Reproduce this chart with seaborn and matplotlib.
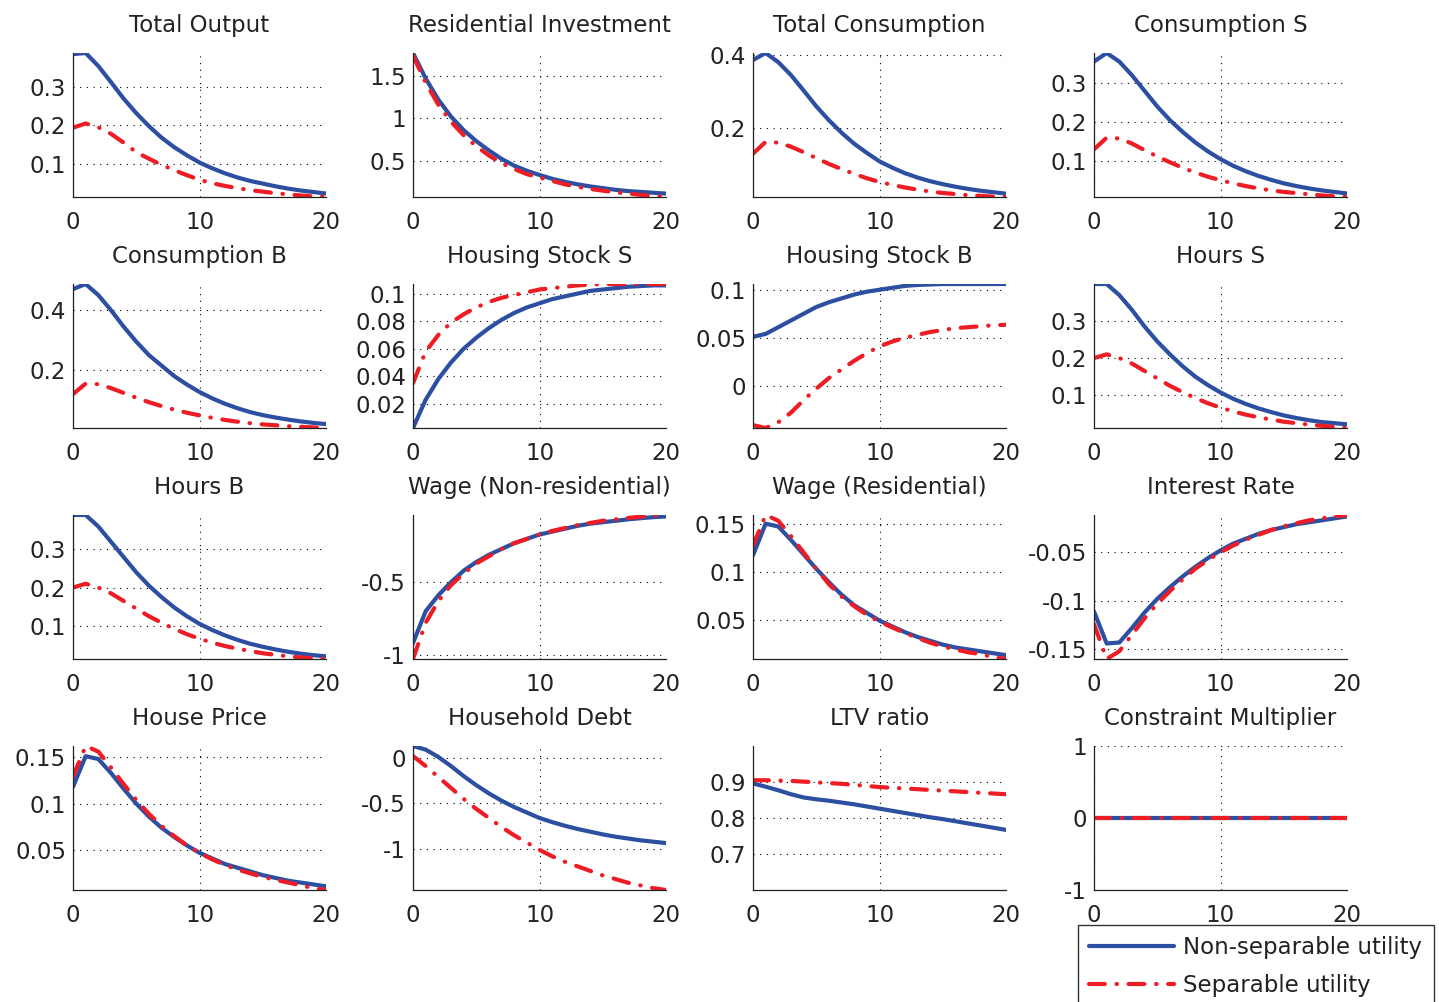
import numpy as np
import pandas as pd
import matplotlib
matplotlib.use("Agg")
import matplotlib.pyplot as plt
import seaborn as sns

# horizon (quarters)
periods = list(range(21))

# impulse responses: non-separable (blue) vs separable (red)
total_output_ns = [0.386, 0.389, 0.355, 0.313, 0.27, 0.232, 0.198, 0.168, 0.143, 0.122, 0.103,
                   0.088, 0.075, 0.064, 0.055, 0.048, 0.041, 0.035, 0.03, 0.026, 0.022]
total_output_s = [0.194, 0.205, 0.195, 0.178, 0.155, 0.13, 0.113, 0.097, 0.083, 0.07, 0.058,
                  0.049, 0.042, 0.036, 0.031, 0.027, 0.023, 0.02, 0.017, 0.015, 0.013]

res_inv_ns = [1.77, 1.47, 1.22, 1.02, 0.86, 0.73, 0.62, 0.52, 0.44, 0.38, 0.33,
              0.285, 0.25, 0.22, 0.195, 0.175, 0.155, 0.14, 0.13, 0.12, 0.11]
res_inv_s = [1.74, 1.42, 1.16, 0.96, 0.8, 0.67, 0.56, 0.47, 0.4, 0.34, 0.3,
             0.26, 0.22, 0.19, 0.165, 0.145, 0.125, 0.11, 0.095, 0.082, 0.07]

total_cons_ns = [0.386, 0.405, 0.38, 0.345, 0.303, 0.26, 0.222, 0.188, 0.158, 0.133, 0.11,
                 0.093, 0.078, 0.066, 0.056, 0.048, 0.041, 0.035, 0.03, 0.026, 0.022]
total_cons_s = [0.131, 0.163, 0.161, 0.15, 0.135, 0.119, 0.103, 0.089, 0.076, 0.064, 0.054,
                0.046, 0.039, 0.033, 0.028, 0.024, 0.021, 0.018, 0.016, 0.014, 0.013]

cons_s_ns = [0.355, 0.377, 0.355, 0.32, 0.28, 0.24, 0.205, 0.175, 0.148, 0.125, 0.105,
             0.088, 0.074, 0.062, 0.052, 0.043, 0.036, 0.03, 0.025, 0.021, 0.017]
cons_s_s = [0.13, 0.16, 0.158, 0.145, 0.128, 0.112, 0.097, 0.083, 0.071, 0.06, 0.051,
            0.043, 0.036, 0.03, 0.025, 0.021, 0.018, 0.015, 0.012, 0.01, 0.008]

cons_b_ns = [0.47, 0.487, 0.45, 0.4, 0.345, 0.295, 0.25, 0.215, 0.18, 0.152, 0.127,
             0.106, 0.088, 0.073, 0.06, 0.05, 0.042, 0.035, 0.029, 0.024, 0.02]
cons_b_s = [0.12, 0.155, 0.153, 0.14, 0.124, 0.108, 0.093, 0.08, 0.068, 0.058, 0.049,
            0.041, 0.034, 0.028, 0.023, 0.019, 0.016, 0.013, 0.011, 0.009, 0.007]

house_s_ns = [0.0025, 0.023, 0.038, 0.05, 0.06, 0.068, 0.075, 0.081, 0.086, 0.09, 0.093,
              0.096, 0.098, 0.1, 0.102, 0.103, 0.104, 0.105, 0.1055, 0.106, 0.106]
house_s_s = [0.035, 0.058, 0.07, 0.079, 0.085, 0.09, 0.094, 0.097, 0.099, 0.101, 0.103,
             0.104, 0.105, 0.106, 0.1065, 0.107, 0.107, 0.107, 0.107, 0.107, 0.107]

house_b_ns = [0.051, 0.054, 0.061, 0.068, 0.075, 0.082, 0.087, 0.091, 0.095, 0.098, 0.1,
              0.102, 0.104, 0.105, 0.1055, 0.106, 0.106, 0.106, 0.106, 0.106, 0.106]
house_b_s = [-0.041, -0.044, -0.038, -0.028, -0.015, -0.003, 0.008, 0.017, 0.026, 0.034, 0.041,
             0.046, 0.05, 0.053, 0.056, 0.058, 0.06, 0.061, 0.062, 0.063, 0.0635]

hours_s_ns = [0.4, 0.4, 0.37, 0.33, 0.285, 0.245, 0.21, 0.178, 0.15, 0.127, 0.107,
              0.09, 0.076, 0.064, 0.054, 0.045, 0.038, 0.032, 0.027, 0.024, 0.021]
hours_s_s = [0.2, 0.21, 0.2, 0.185, 0.165, 0.145, 0.125, 0.108, 0.092, 0.078, 0.066,
             0.056, 0.047, 0.04, 0.034, 0.028, 0.024, 0.02, 0.017, 0.014, 0.011]

hours_b_ns = [0.39, 0.39, 0.36, 0.32, 0.28, 0.24, 0.205, 0.175, 0.148, 0.125, 0.105,
              0.089, 0.075, 0.063, 0.053, 0.045, 0.038, 0.032, 0.027, 0.023, 0.02]
hours_b_s = [0.2, 0.21, 0.2, 0.185, 0.165, 0.145, 0.125, 0.108, 0.092, 0.078, 0.066,
             0.056, 0.047, 0.04, 0.034, 0.028, 0.024, 0.02, 0.017, 0.015, 0.013]

wage_nr_ns = [-0.92, -0.7, -0.59, -0.5, -0.42, -0.36, -0.31, -0.27, -0.23, -0.2, -0.17,
              -0.15, -0.13, -0.11, -0.095, -0.085, -0.075, -0.065, -0.057, -0.05, -0.045]
wage_nr_s = [-1.03, -0.78, -0.63, -0.52, -0.44, -0.37, -0.32, -0.27, -0.23, -0.2, -0.17,
             -0.145, -0.125, -0.105, -0.09, -0.075, -0.065, -0.055, -0.047, -0.04, -0.035]

wage_r_ns = [0.117, 0.15, 0.147, 0.133, 0.118, 0.103, 0.089, 0.076, 0.065, 0.057, 0.049,
             0.043, 0.037, 0.032, 0.028, 0.024, 0.021, 0.019, 0.017, 0.015, 0.013]
wage_r_s = [0.127, 0.159, 0.153, 0.137, 0.12, 0.103, 0.087, 0.074, 0.064, 0.055, 0.048,
            0.042, 0.036, 0.031, 0.026, 0.022, 0.019, 0.016, 0.014, 0.011, 0.009]

rate_ns = [-0.111, -0.144, -0.143, -0.128, -0.112, -0.098, -0.086, -0.075, -0.065, -0.056, -0.048,
           -0.041, -0.036, -0.031, -0.027, -0.024, -0.021, -0.019, -0.017, -0.015, -0.013]
rate_s = [-0.124, -0.16, -0.152, -0.135, -0.118, -0.103, -0.09, -0.078, -0.067, -0.058, -0.05,
          -0.043, -0.037, -0.032, -0.027, -0.023, -0.02, -0.017, -0.015, -0.013, -0.0115]

price_ns = [0.118, 0.151, 0.148, 0.133, 0.116, 0.1, 0.086, 0.074, 0.064, 0.055, 0.047,
            0.041, 0.035, 0.031, 0.027, 0.023, 0.02, 0.017, 0.015, 0.013, 0.011]
price_s = [0.129, 0.162, 0.156, 0.139, 0.121, 0.104, 0.089, 0.076, 0.065, 0.055, 0.047,
           0.04, 0.034, 0.029, 0.025, 0.021, 0.018, 0.015, 0.012, 0.009, 0.007]

debt_ns = [0.13, 0.09, 0.01, -0.09, -0.2, -0.3, -0.39, -0.47, -0.54, -0.6, -0.66,
           -0.705, -0.745, -0.78, -0.81, -0.84, -0.865, -0.885, -0.905, -0.92, -0.935]
debt_s = [0.02, -0.09, -0.21, -0.33, -0.45, -0.56, -0.66, -0.76, -0.85, -0.93, -1.01,
          -1.08, -1.14, -1.19, -1.24, -1.29, -1.33, -1.37, -1.4, -1.43, -1.45]

ltv_ns = [0.896, 0.887, 0.877, 0.866, 0.857, 0.852, 0.848, 0.843, 0.838, 0.832, 0.826,
          0.82, 0.814, 0.808, 0.802, 0.797, 0.791, 0.785, 0.779, 0.773, 0.767]
ltv_s = [0.905, 0.905, 0.904, 0.903, 0.901, 0.899, 0.897, 0.895, 0.892, 0.889, 0.886,
         0.884, 0.882, 0.88, 0.878, 0.876, 0.874, 0.872, 0.87, 0.868, 0.866]

mult_ns = [0.0] * 21
mult_s = [0.0] * 21

titles = ["Total Output", "Residential Investment", "Total Consumption", "Consumption S",
          "Consumption B", "Housing Stock S", "Housing Stock B", "Hours S",
          "Hours B", "Wage (Non-residential)", "Wage (Residential)", "Interest Rate",
          "House Price", "Household Debt", "LTV ratio", "Constraint Multiplier"]

series_ns = [total_output_ns, res_inv_ns, total_cons_ns, cons_s_ns, cons_b_ns, house_s_ns,
             house_b_ns, hours_s_ns, hours_b_ns, wage_nr_ns, wage_r_ns, rate_ns,
             price_ns, debt_ns, ltv_ns, mult_ns]
series_s = [total_output_s, res_inv_s, total_cons_s, cons_s_s, cons_b_s, house_s_s,
            house_b_s, hours_s_s, hours_b_s, wage_nr_s, wage_r_s, rate_s,
            price_s, debt_s, ltv_s, mult_s]

yticks = [[0.1, 0.2, 0.3], [0.5, 1, 1.5], [0.2, 0.4], [0.1, 0.2, 0.3],
          [0.2, 0.4], [0.02, 0.04, 0.06, 0.08, 0.1], [0, 0.05, 0.1], [0.1, 0.2, 0.3],
          [0.1, 0.2, 0.3], [-1, -0.5], [0.05, 0.1, 0.15], [-0.15, -0.1, -0.05],
          [0.05, 0.1, 0.15], [-1, -0.5, 0], [0.7, 0.8, 0.9], [-1, 0, 1]]

# panels whose y-range is not just the data range
fixed_ylim = {14: (0.6, 1.0), 15: (-1, 1)}

xticks = [0, 10, 20]
labels = ["Non-separable utility", "Separable utility"]

blue = "#2D4FA2"
red = "#EE1D25"
ink = "#222222"
fs = 16.5

sns.set_style("white")
plt.rcParams["font.family"] = ["DejaVu Sans"]
plt.rcParams["axes.unicode_minus"] = False

fig = plt.figure(figsize=(14.39, 10.02), dpi=100)
W, H = 1439, 1002
col_left = [73, 413, 753, 1094]
row_top = [53, 284, 515, 746]
aw, ah = 253, 144

for i, title in enumerate(titles):
    r, c = divmod(i, 4)
    ax = fig.add_axes([col_left[c] / W, 1 - (row_top[r] + ah) / H, aw / W, ah / H])
    df = pd.DataFrame({"t": periods, "ns": series_ns[i], "s": series_s[i]})
    sns.lineplot(data=df, x="t", y="ns", ax=ax, color=blue, lw=3,
                 solid_capstyle="round", label=labels[0] if i == 15 else None)
    sns.lineplot(data=df, x="t", y="s", ax=ax, color=red, lw=3,
                 linestyle=(0, (3.8, 2.8, 0.1, 2.8)), dash_capstyle="round",
                 label=labels[1] if i == 15 else None)
    ax.set_xlim(0, 20)
    if i in fixed_ylim:
        ax.set_ylim(*fixed_ylim[i])
    else:
        lo = min(min(series_ns[i]), min(series_s[i]))
        hi = max(max(series_ns[i]), max(series_s[i]))
        ax.set_ylim(lo, hi)
    ax.set_xticks(xticks)
    ax.set_yticks(yticks[i])
    ax.set_yticklabels(["%g" % v for v in yticks[i]])
    ax.set_xlabel("")
    ax.set_ylabel("")
    ax.set_title(title, fontsize=fs, pad=15, color=ink)
    ax.grid(True, color="black", linestyle=(0, (1, 5)), linewidth=0.8)
    for side in ["top", "right"]:
        ax.spines[side].set_visible(False)
    for side in ["left", "bottom"]:
        ax.spines[side].set_color(ink)
        ax.spines[side].set_linewidth(0.9)
    ax.tick_params(direction="in", length=3, width=0.8, labelsize=fs,
                   labelcolor=ink)
    ax.tick_params(axis="x", pad=10)
    ax.tick_params(axis="y", pad=5)
    if ax.get_legend() is not None:
        ax.get_legend().remove()
    if i == 15:
        handles, labs = ax.get_legend_handles_labels()

leg = fig.legend(handles, labs, loc="upper left",
                 bbox_to_anchor=(1078 / W, 1 - 925 / H), fontsize=fs,
                 frameon=True, fancybox=False, edgecolor="black",
                 handlelength=3.7, handletextpad=0.4, labelspacing=0.65,
                 borderpad=0.5, borderaxespad=0)
leg.get_frame().set_linewidth(1.0)
for t in leg.get_texts():
    t.set_color(ink)

fig.savefig("out.png", dpi=100)
